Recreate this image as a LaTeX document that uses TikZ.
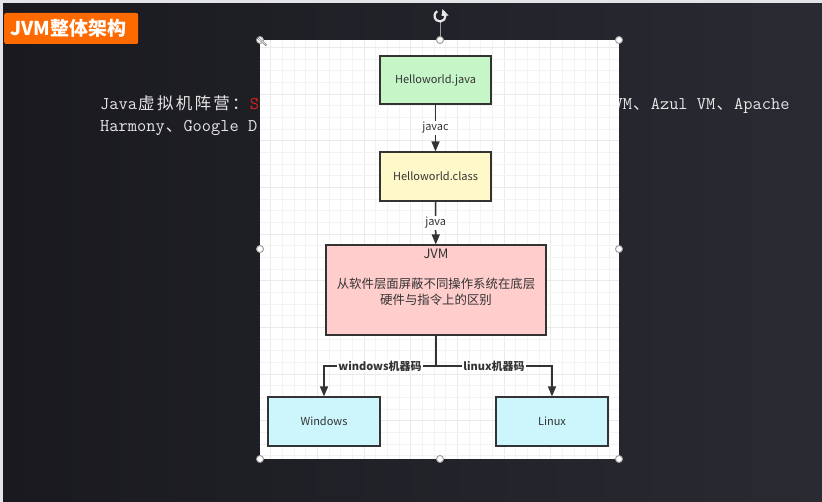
\documentclass[tikz,border=0pt]{standalone}
\usepackage{fontspec}
\newfontfamily\cjk{Noto Sans CJK SC}
\usetikzlibrary{arrows.meta}
\definecolor{bgL}{HTML}{19191F}
\definecolor{bgR}{HTML}{2A2A33}
\definecolor{edge}{HTML}{E4E4E8}
\definecolor{orng}{HTML}{FF6A00}
\definecolor{txtw}{HTML}{E6E6E6}
\definecolor{redS}{HTML}{E01E1E}
\definecolor{dk}{HTML}{333333}
\definecolor{gminor}{HTML}{F3F3F3}
\definecolor{gmajor}{HTML}{EAEAEA}
\definecolor{cjava}{HTML}{C6F5C8}
\definecolor{cclass}{HTML}{FFF9C9}
\definecolor{cjvm}{HTML}{FFCDCC}
\definecolor{cos}{HTML}{CCF6FC}
\definecolor{hdl}{HTML}{9A9A9A}
\newcommand\cjc[1]{\makebox[18.8pt][c]{\cjk\fontsize{16.5}{16}\selectfont #1}}
\newcommand\monof{\ttfamily\fontsize{17.9}{18}\selectfont}
\begin{document}
\begin{tikzpicture}[x=1pt,y=-1pt,
  box/.style={draw=dk, line width=1.2pt, inner sep=0pt, text=dk,
    font=\cjk\fontsize{11}{11}\selectfont},
  arr/.style={draw=dk, line width=1.5pt, -{Triangle[length=10pt,width=8pt]}},
  lbl/.style={fill=white, inner sep=1.2pt, text=dk, font=\cjk\fontsize{11}{11}\selectfont},
  lblb/.style={fill=white, inner sep=1.2pt, text=dk, font=\cjk\bfseries\fontsize{11}{11}\selectfont},
  handle/.style={draw=hdl, fill=white, line width=0.9pt},
  slide/.style={inner sep=0pt, anchor=base west, text=txtw}
]
\useasboundingbox (0,0) rectangle (822,502);
% background
\shade[left color=bgL, right color=bgR] (0,0) rectangle (822,502);
\fill[edge] (0,0) rectangle (822,3);
\fill[edge] (0,0) rectangle (3,502);
% title
\node[fill=orng, rounded corners=2pt, minimum width=134pt, minimum height=31pt,
  inner sep=0pt, anchor=west, text=white, font=\cjk\bfseries\fontsize{19}{19}\selectfont]
  (title) at (4,28.5) {\makebox[122pt][l]{JVM整体架构}};
% slide text
\node[slide] (l1a) at (100,110) {\monof Java\cjc{虚}\cjc{拟}\cjc{机}\cjc{阵}\cjc{营}\cjc{：}\textcolor{redS}{S}};
\node[slide] (l1b) at (613.4,110) {\monof VM\cjc{、}Azul VM\cjc{、}Apache};
\node[slide] (l2) at (100,132) {\monof Harmony\cjc{、}Google D};
% canvas
\fill[white] (260,40) rectangle (619,459);
\begin{scope}
  \clip (260,40) rectangle (619,459);
  \foreach \i in {0,...,30} {
    \pgfmathtruncatemacro\m{mod(\i,4)}
    \ifnum\m=0
      \draw[gmajor, line width=0.8pt] (270.7+\i*11.67,40) -- ++(0,419);
    \else
      \draw[gminor, line width=0.8pt] (270.7+\i*11.67,40) -- ++(0,419);
    \fi
  }
  \foreach \j in {0,...,36} {
    \pgfmathtruncatemacro\m{mod(\j,4)}
    \ifnum\m=0
      \draw[gmajor, line width=0.8pt] (260,47.3+\j*11.67) -- ++(359,0);
    \else
      \draw[gminor, line width=0.8pt] (260,47.3+\j*11.67) -- ++(359,0);
    \fi
  }
\end{scope}
% nodes
\node[box, fill=cjava, minimum width=111pt, minimum height=48pt] (hj) at (435.5,80) {Helloworld.java};
\node[box, fill=cclass, minimum width=111pt, minimum height=49pt] (hc) at (435.5,176.5) {Helloworld.class};
\node[box, fill=cjvm, minimum width=220pt, minimum height=90pt] (jvm) at (436,290) {};
\node[inner sep=0pt, anchor=north, text=dk, align=center, font=\cjk\fontsize{12.4}{16}\selectfont]
  (jvmtxt) at ([yshift=-4pt]jvm.north) {{\fontsize{13}{16}\selectfont JVM}\\[14pt]从软件层面屏蔽不同操作系统在底层\\硬件与指令上的区别};
\node[box, fill=cos, minimum width=112pt, minimum height=49pt] (win) at (324,421.5) {Windows};
\node[box, fill=cos, minimum width=112pt, minimum height=49pt] (lin) at (552,421.5) {Linux};
% connectors
\draw[arr] (hj) -- node[lbl] {javac} (hc);
\draw[arr] (hc) -- node[lbl] {java} (jvm);
\coordinate (split) at (436,366);
\draw[arr] (jvm.south) -- (split) -| node[lblb, pos=0.25] {windows机器码} (win.north);
\draw[arr] (jvm.south) -- (split) -| node[lblb, pos=0.25] {linux机器码} (lin.north);
% selection handles
\coordinate (rot) at (440,16);
\coordinate (tmid) at (440,40);
\draw[hdl, line width=0.9pt] (440,22) -- (tmid);
\draw[white!75!hdl, line width=2.2pt] (rot) ++(50:5.5pt) arc[start angle=50, end angle=-240, radius=5.5pt];
\fill[white!75!hdl] (442.5,9) -- (448.5,15.5) -- (441.5,16) -- cycle;
\foreach \p in {(260,40),(440,40),(619,40),(260,249),(619,249),(260,459),(440,459),(619,459)}
  \draw[handle] \p circle (3.5pt);
% cursor glyph at top-left corner
\draw[hdl!70!black, line width=1.8pt, line cap=round] (257.5,37.5) -- (266,45);
\draw[white, line width=0.7pt] (258,38) -- (265.5,44.5);
\end{tikzpicture}
\end{document}
